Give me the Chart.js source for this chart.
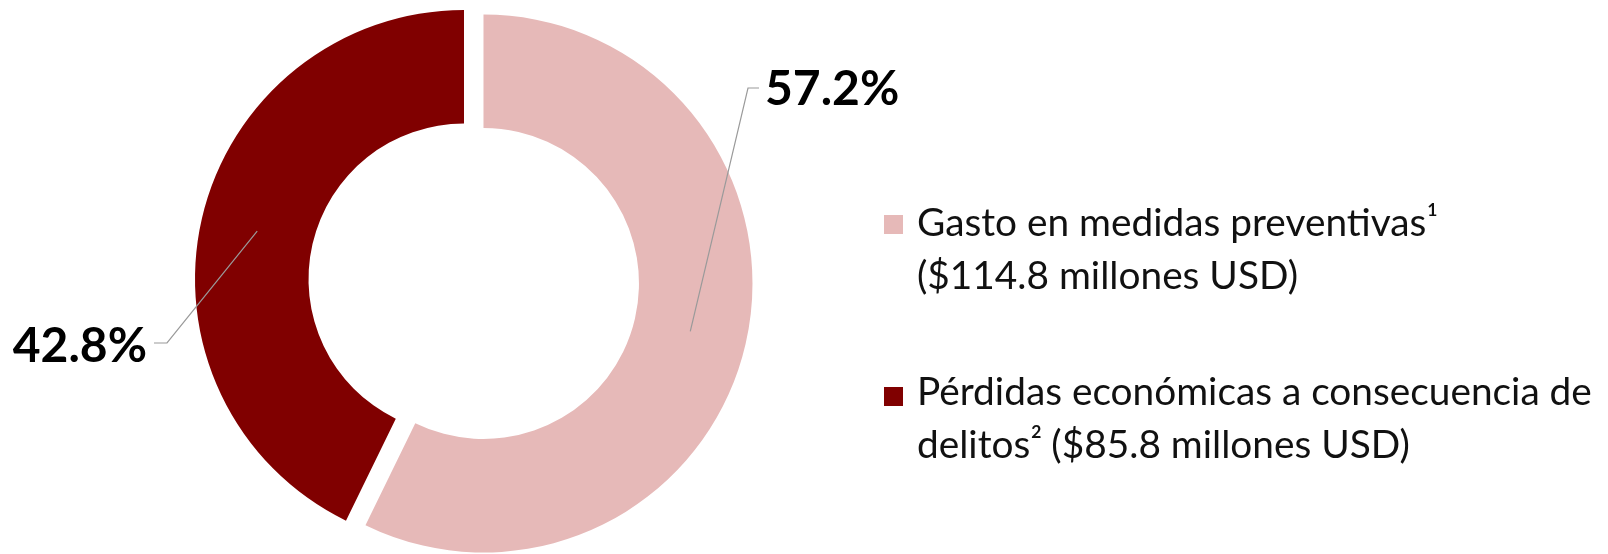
<!DOCTYPE html>
<html>
<head>
<meta charset="utf-8">
<script src="https://cdn.jsdelivr.net/npm/chart.js@4.4.1/dist/chart.umd.min.js"></script>
<style>
  html, body { margin: 0; padding: 0; background: #ffffff; }
  #wrap { position: relative; width: 1608px; height: 554px; overflow: hidden; }
  #c { position: absolute; left: 0; top: 0; }
  #legend { position: absolute; left: 0; top: 0; width: 1608px; height: 554px;
            font-family: Lato, "Open Sans", sans-serif;
            font-size: 38.8px; line-height: 53px; color: #111111; }
  .sw { position: absolute; width: 19px; height: 19px; }
  .txt { position: absolute; white-space: nowrap; }
  .txt sup { font-size: 0.45em; font-weight: 700; line-height: 0; vertical-align: baseline;
             position: relative; top: -1.15em; margin-left: 1px; }
</style>
</head>
<body>
<div id="wrap">
  <canvas id="c" width="1608" height="554"></canvas>
  <div id="legend"></div>
</div>
<script>
// ---- data ----
const categories = ['Gasto en medidas preventivas', 'Pérdidas económicas a consecuencia de delitos'];
const valuesMillionUSD = [114.8, 85.8];
const footnotes = ['1', '2'];
const sliceColors = ['#E6B9B8', '#800000'];
// legend text lines as wrapped in the reference ("{sup}" = footnote, "{val}" = value)
const legendLines = [
  ['Gasto en medidas preventivas{sup}', '({val} millones USD)'],
  ['Pérdidas económicas a consecuencia de', 'delitos{sup} ({val} millones USD)']
];

// ---- layout (positions/styles) ----
const explodePx = [20, 0];           // visual explosion (translation) of each slice
const legendLayout = [
  { swX: 884, swY: 215, txtX: 917, top: 195 },
  { swX: 884, swY: 387, txtX: 917, top: 364 }
];
const labelAnchors = [
  { ex: 748, ey: 88, dir: 1, len: 11, gap: 6, baseline: 105 },
  { ex: 167, ey: 343, dir: -1, len: 13, gap: 7, baseline: 362 }
];

// ---- legend (HTML) ----
const legendEl = document.getElementById('legend');
categories.forEach((cat, i) => {
  const L = legendLayout[i];
  const sw = document.createElement('div');
  sw.className = 'sw';
  sw.style.left = L.swX + 'px';
  sw.style.top = L.swY + 'px';
  sw.style.background = sliceColors[i];
  legendEl.appendChild(sw);
  const t = document.createElement('div');
  t.className = 'txt';
  t.style.left = L.txtX + 'px';
  t.style.top = L.top + 'px';
  t.innerHTML = legendLines[i].map(line =>
    line.replace('{sup}', '<sup>' + footnotes[i] + '</sup>')
        .replace('{val}', '$' + valuesMillionUSD[i].toFixed(1))
  ).join('<br>');
  legendEl.appendChild(t);
});

// ---- exploded slices: draw each arc element translated along its mid-angle ----
const explodeArcs = {
  id: 'explodeArcs',
  beforeDatasetDraw(chart, args, opts) {
    const ctx = chart.ctx;
    args.meta.data.forEach((arc, i) => {
      const mid = (arc.startAngle + arc.endAngle) / 2;
      const d = opts.explode[i] || 0;
      ctx.save();
      ctx.translate(Math.cos(mid) * d, Math.sin(mid) * d);
      arc.draw(ctx, chart.chartArea);
      ctx.restore();
    });
    return false;
  }
};

// ---- data labels with leader lines ----
const leaderLabels = {
  id: 'leaderLabels',
  afterDatasetsDraw(chart, args, opts) {
    const ctx = chart.ctx;
    const meta = chart.getDatasetMeta(0);
    const data = chart.data.datasets[0].data;
    const total = data.reduce((a, b) => a + b, 0);
    meta.data.forEach((arc, i) => {
      const off = opts.explode[i] || 0;
      const mid = (arc.startAngle + arc.endAngle) / 2;
      const r = off + (arc.innerRadius + arc.outerRadius) / 2;
      const sx = arc.x + Math.cos(mid) * r;
      const sy = arc.y + Math.sin(mid) * r;
      const a = opts.anchors[i];
      ctx.save();
      ctx.strokeStyle = opts.lineColor;
      ctx.lineWidth = 1.2;
      ctx.beginPath();
      ctx.moveTo(sx, sy);
      ctx.lineTo(a.ex, a.ey);
      ctx.lineTo(a.ex + a.dir * a.len, a.ey);
      ctx.stroke();
      ctx.font = opts.font;
      ctx.fillStyle = '#000000';
      ctx.textBaseline = 'alphabetic';
      ctx.textAlign = a.dir > 0 ? 'left' : 'right';
      ctx.fillText((data[i] / total * 100).toFixed(1) + '%', a.ex + a.dir * (a.len + a.gap), a.baseline);
      ctx.restore();
    });
  }
};

new Chart(document.getElementById('c'), {
  type: 'doughnut',
  data: {
    labels: categories,
    datasets: [{
      data: valuesMillionUSD,
      backgroundColor: sliceColors,
      borderWidth: 0,
      offset: 0,
      hoverOffset: 0,
      radius: 269,
      cutout: '57.8%',
      clip: false
    }]
  },
  options: {
    responsive: false,
    animation: false,
    events: [],
    radius: 269,
    cutout: '57.8%',
    rotation: 0,
    circumference: 360,
    layout: { padding: { left: 0, right: 680, top: 4, bottom: 0 } },
    plugins: {
      legend: { display: false },
      tooltip: { enabled: false },
      explodeArcs: { explode: explodePx },
      leaderLabels: {
        explode: explodePx,
        anchors: labelAnchors,
        lineColor: '#9a9a9a',
        font: 'bold 48px Lato, "Open Sans", sans-serif'
      }
    }
  },
  plugins: [explodeArcs, leaderLabels]
});
</script>
</body>
</html>
